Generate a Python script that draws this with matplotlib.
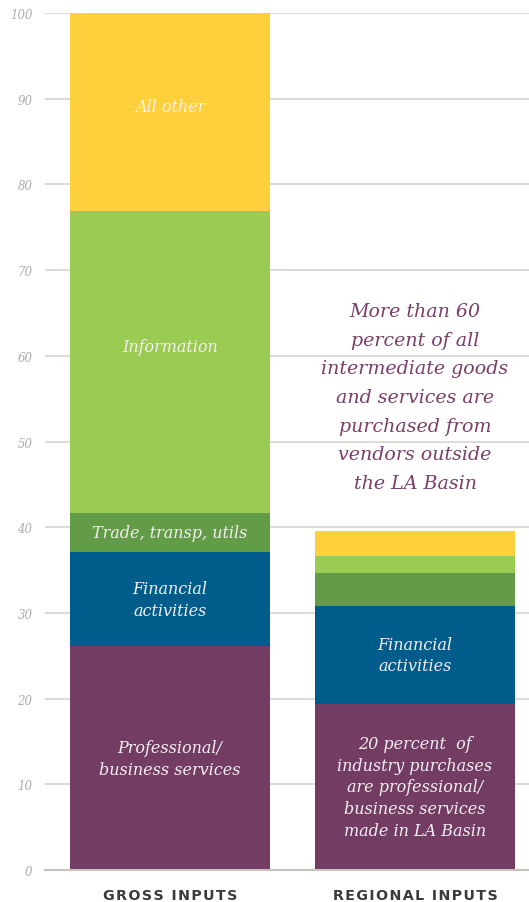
import numpy as np
import matplotlib.pyplot as plt

categories = ["GROSS INPUTS", "REGIONAL INPUTS"]
segments = ["Professional/business", "Financial", "Trade", "Information", "All other"]
gross = [26.1, 11.0, 4.6, 35.2, 23.1]
regional = [19.4, 11.4, 3.9, 1.9, 3.0]
colors = ["#733c63", "#005c8a", "#629c46", "#9acb52", "#fed03b"]

gross_labels = ["Professional/\nbusiness services", "Financial\nactivities",
                "Trade, transp, utils", "Information", "All other"]
regional_labels = ["20 percent  of\nindustry purchases\nare professional/\nbusiness services\nmade in LA Basin",
                   "Financial\nactivities", "", "", ""]
note = ("More than 60\npercent of all\nintermediate goods\nand services are\n"
        "purchased from\nvendors outside\nthe LA Basin")

serif = ["DejaVu Serif"]
# small nudges so labels sit where the original puts them
nudge = [[0, 0, 0, 1.8, 0.7], [0, 0, 0, 0, 0]]

fig = plt.figure(figsize=(5.29, 9.03), dpi=100)
ax = fig.add_axes([0.085, 0.0354, 0.915, 0.949])

x = np.arange(len(categories))
width = 0.816
data = np.array([gross, regional])
bottoms = np.zeros(2)
for i in range(len(segments)):
    ax.bar(x, data[:, i], width, bottom=bottoms, color=colors[i], zorder=2)
    for j, labels in enumerate([gross_labels, regional_labels]):
        if labels[i]:
            ax.text(x[j], bottoms[j] + data[j, i] / 2 + nudge[j][i], labels[i],
                    ha="center", va="center", color="#f3eff2", fontsize=11.5,
                    style="italic", family=serif, linespacing=1.37, zorder=3)
    bottoms += data[:, i]

ax.text(1, 55.2, note, ha="center", va="center", color="#7a3e6a", fontsize=13.7,
        style="italic", family=serif, linespacing=1.76, zorder=3)

ax.set_xlim(-0.51, 1.465)
ax.set_ylim(0, 100)
ax.set_yticks(np.arange(0, 101, 10))
ax.set_yticklabels([str(v) for v in range(0, 101, 10)], fontsize=8.5, style="italic",
                   color="#b0aca8", family=serif)
ax.grid(axis="y", color="#d9d4ce", linewidth=1.2, zorder=0)
ax.tick_params(axis="y", length=0, pad=9)
ax.tick_params(axis="x", length=0, pad=13)
ax.set_xticks(x)
ax.set_xticklabels(["\u200a".join(c) for c in categories], fontsize=10.3,
                   fontweight="bold", family="DejaVu Sans", color="#3a3a3a")
for s in ["top", "right", "left"]:
    ax.spines[s].set_visible(False)
ax.spines["bottom"].set_color("#c8c2bb")
ax.spines["bottom"].set_linewidth(1.5)
ax.set_axisbelow(True)

fig.savefig("out.png", dpi=100)
